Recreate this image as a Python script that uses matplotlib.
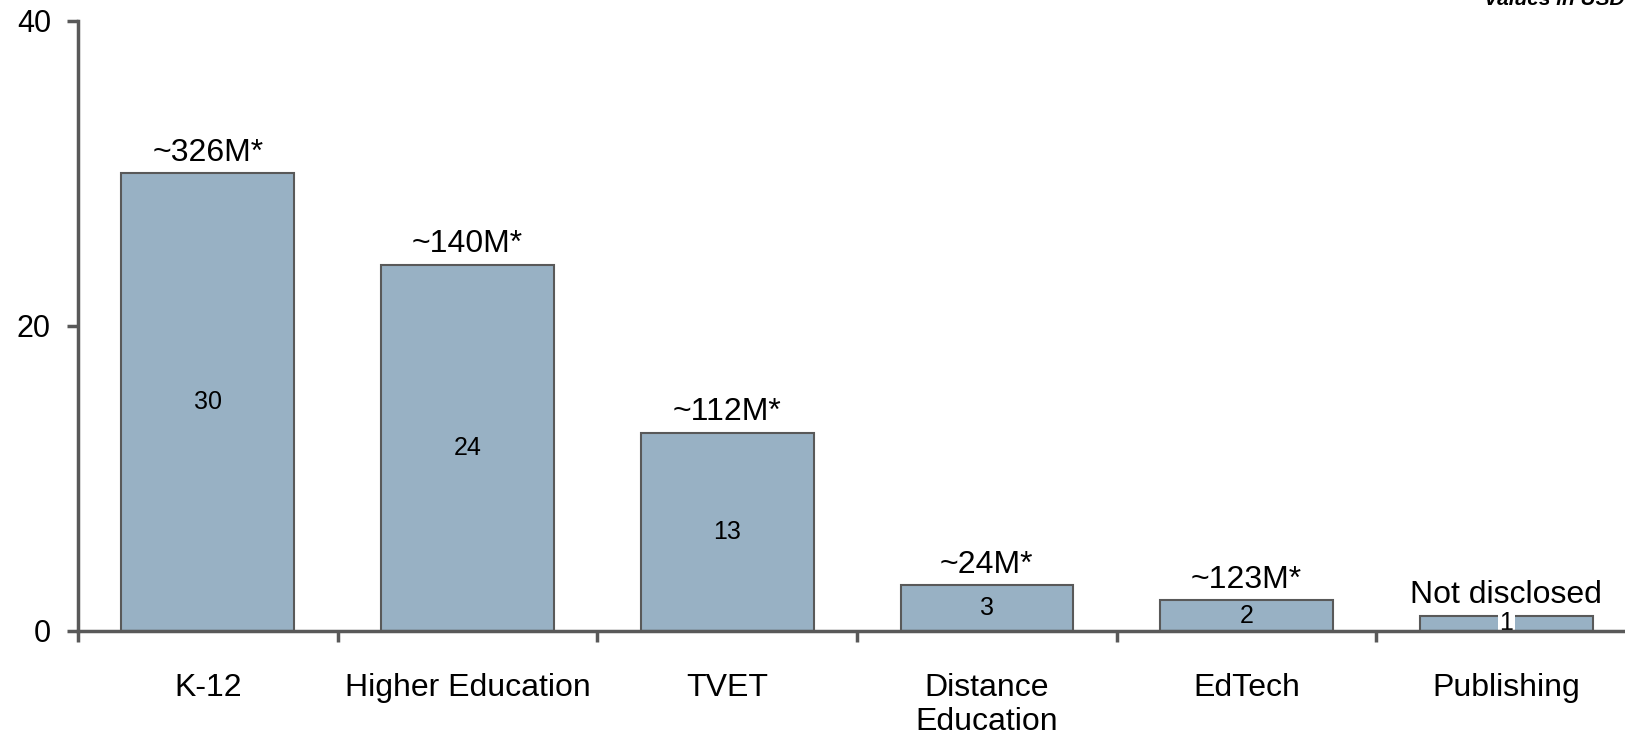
import matplotlib.pyplot as plt
import numpy as np

categories = ['K-12', 'Higher Education', 'TVET', 'Distance\nEducation', 'EdTech', 'Publishing']
deal_counts = [30, 24, 13, 3, 2, 1]
deal_values = ['~326M*', '~140M*', '~112M*', '~24M*', '~123M*', 'Not disclosed']

plt.rcParams['font.family'] = ['Liberation Sans', 'DejaVu Sans']

fig = plt.figure(figsize=(16.25, 7.35), dpi=100)
ax = fig.add_axes([0.048, 0.1415, 0.9588, 0.83])

x = np.arange(len(categories))
bars = ax.bar(x, deal_counts, width=0.665, color='#98b1c4', edgecolor='#595959', linewidth=1.5, zorder=2)

ax.set_xlim(-0.5, len(categories) - 0.5)
ax.set_ylim(0, 40)

# counts inside the bars, totals on top
for i, (n, lbl) in enumerate(zip(deal_counts, deal_values)):
    box = dict(facecolor='white', edgecolor='none', pad=1) if n < 2 else None
    ax.text(i, n / 2, str(n), ha='center', va='center', fontsize=18, bbox=box, zorder=3)
    ax.annotate(lbl, (i, n), xytext=(0, 4), textcoords='offset points',
                ha='center', va='bottom', fontsize=23)

ax.set_yticks([0, 20, 40])
ax.tick_params(axis='y', labelsize=22, length=8, width=2.5, color='#595959', pad=11.5)

# boundary ticks on the category axis, labels centred between them
ax.set_xticks(np.arange(-0.5, len(categories), 1.0))
ax.set_xticklabels([])
ax.set_xticks(x, minor=True)
ax.set_xticklabels(categories, minor=True, fontsize=23)
ax.tick_params(axis='x', which='major', length=8, width=2.5, color='#595959')
ax.tick_params(axis='x', which='minor', length=0, pad=30)

for side in ['top', 'right']:
    ax.spines[side].set_visible(False)
for side in ['left', 'bottom']:
    ax.spines[side].set_color('#595959')
    ax.spines[side].set_linewidth(2.5)
ax.spines['bottom'].set_zorder(4)

fig.text(1.0, 0.993, 'Values in USD', ha='right', va='baseline', fontsize=15,
         fontweight='bold', fontstyle='italic')

fig.savefig('out.png', dpi=100)
